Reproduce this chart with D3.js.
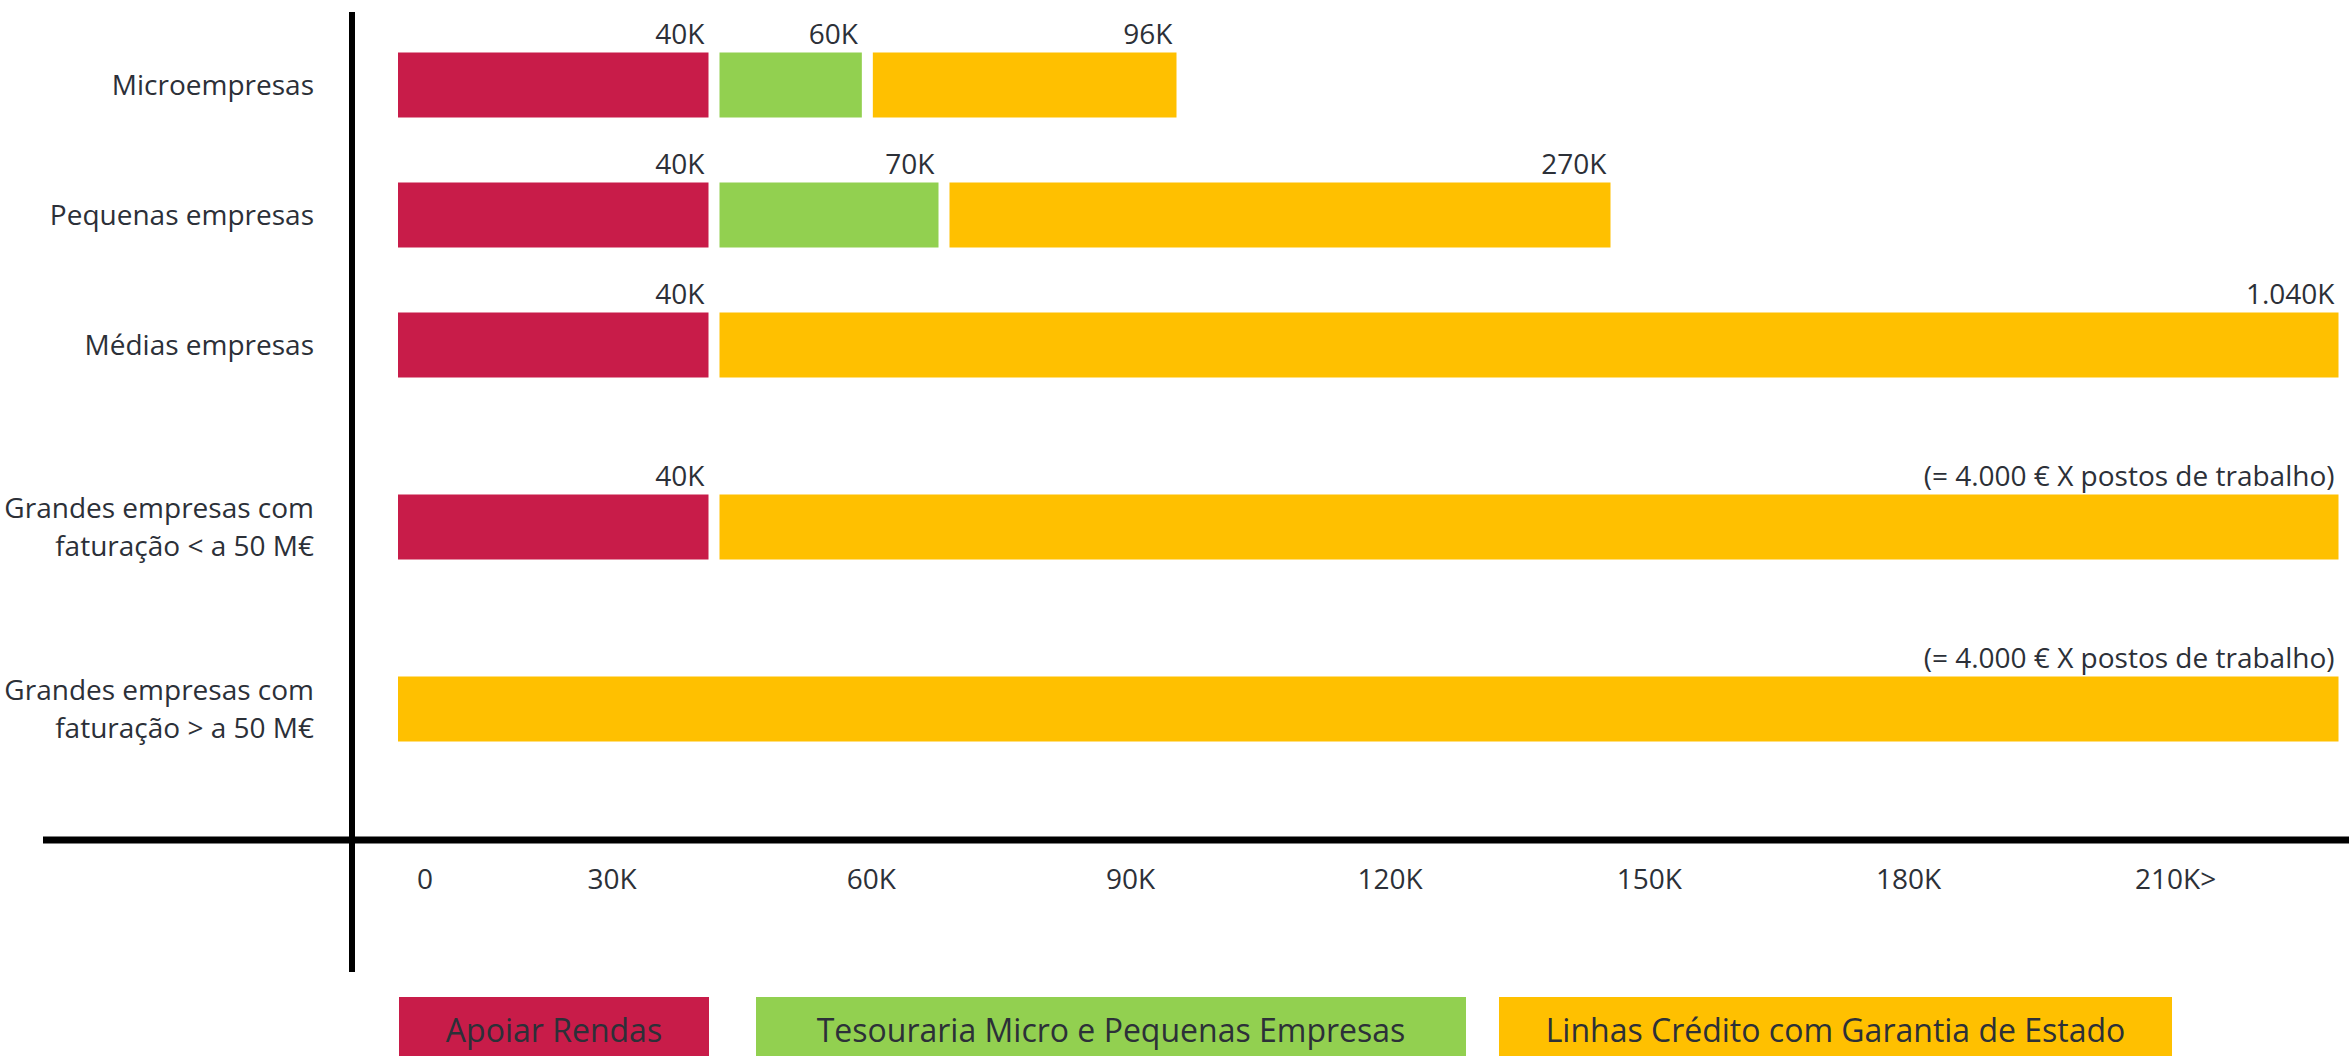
<!DOCTYPE html>
<html>
<head>
<meta charset="utf-8">
<script src="https://cdn.jsdelivr.net/npm/d3@7"></script>
<style>
  body { margin: 0; background: #fff; }
  svg { display: block; font-family: "Open Sans", sans-serif; }
</style>
</head>
<body>
<script>
// categories (top to bottom)
const categories = ["Microempresas", "Pequenas empresas", "Médias empresas",
  "Grandes empresas com\nfaturação < a 50 M€", "Grandes empresas com\nfaturação > a 50 M€"];

// cumulative upper limit (K€) of each measure per category, null = not available
const apoiarRendas = [40, 40, 40, 40, null];
const tesouraria   = [60, 70, null, null, null];
const linhasCredito = [96, 270, 1040, 1040, 1040];

// label shown above each segment
const rendasLabels = ["40K", "40K", "40K", "40K", null];
const tesourariaLabels = ["60K", "70K", null, null, null];
const creditoLabels = ["96K", "270K", "1.040K", "(= 4.000 € X postos de trabalho)", "(= 4.000 € X postos de trabalho)"];

const tickValues = [0, 30, 60, 90, 120, 150, 180, 210];
const tickLabels = ["0", "30K", "60K", "90K", "120K", "150K", "180K", "210K>"];

const seriesNames = ["Apoiar Rendas", "Tesouraria Micro e Pequenas Empresas", "Linhas Crédito com Garantia de Estado"];
const seriesColors = ["#c81c49", "#92d050", "#ffc000"];

const W = 2349, H = 1056;
const textColor = "#2c3038";

const svg = d3.select("body").append("svg")
  .attr("width", W).attr("height", H);

// schematic (broken) value scale used for the bars
const x = d3.scaleLinear()
  .domain([0, 40, 70, 96, 270, 1040])
  .range([398, 714, 944, 1182, 1616, 2344]);

// scale for the tick labels under the axis
const xTick = d3.scaleLinear()
  .domain([0, 30, 210])
  .range([425, 612, 2168]);

// row centers: extra room for rows with a note above
const barH = 65, baseStep = 130, noteStep = 52;
const rowY = [];
categories.forEach((c, i) => {
  if (i == 0) rowY.push(85);
  else {
    let hasNote = creditoLabels[i] && creditoLabels[i].startsWith("(");
    rowY.push(rowY[i-1] + baseStep + (hasNote ? noteStep : 0));
  }
});

// build segments
const gap = 11;
const segments = [];
categories.forEach((c, i) => {
  let prev = 0;
  [[apoiarRendas, rendasLabels], [tesouraria, tesourariaLabels], [linhasCredito, creditoLabels]].forEach((s, k) => {
    let v = s[0][i];
    if (v == null) return;
    segments.push({row: i, series: k, start: prev, end: v, label: s[1][i]});
    prev = v;
  });
});

const gBars = svg.append("g");
gBars.selectAll("rect")
  .data(segments)
  .join("rect")
    .attr("x", d => d.start == 0 ? x(0) : x(d.start) + gap/2)
    .attr("y", d => rowY[d.row] - barH/2)
    .attr("width", d => x(d.end) - gap/2 - (d.start == 0 ? x(0) : x(d.start) + gap/2))
    .attr("height", barH)
    .attr("fill", d => seriesColors[d.series]);

gBars.selectAll("text")
  .data(segments.filter(d => d.label))
  .join("text")
    .attr("x", d => x(d.end) - gap/2 - 4)
    .attr("y", d => rowY[d.row] - barH/2 - 9)
    .attr("text-anchor", "end")
    .attr("fill", textColor)
    .style("font-size", "28px")
    .text(d => d.label);

// category labels
const gCat = svg.append("g");
gCat.selectAll("text")
  .data(categories)
  .join("text")
    .attr("text-anchor", "end")
    .attr("fill", textColor)
    .style("font-size", "28px")
    .each(function(d, i) {
      let lines = d.split("\n");
      let t = d3.select(this);
      lines.forEach((l, j) => {
        t.append("tspan")
          .attr("x", 314)
          .attr("y", rowY[i] + 10 + (j - (lines.length - 1)/2) * 38)
          .text(l);
      });
    });

// axes
svg.append("line")
  .attr("x1", 352).attr("x2", 352)
  .attr("y1", 12).attr("y2", 972)
  .attr("stroke", "#000").attr("stroke-width", 6);

svg.append("line")
  .attr("x1", 43).attr("x2", W)
  .attr("y1", 840).attr("y2", 840)
  .attr("stroke", "#000").attr("stroke-width", 7);

svg.append("g")
  .selectAll("text")
  .data(tickValues)
  .join("text")
    .attr("x", d => xTick(d))
    .attr("y", 889)
    .attr("text-anchor", (d, i) => tickLabels[i].endsWith(">") ? "start" : "middle")
    .attr("dx", (d, i) => tickLabels[i].endsWith(">") ? -33 : 0)
    .attr("fill", textColor)
    .style("font-size", "28px")
    .text((d, i) => tickLabels[i]);

// legend
const legendX = [[399, 709], [756, 1466], [1499, 2172]];
const gLeg = svg.append("g")
  .selectAll("g")
  .data(seriesNames)
  .join("g");

gLeg.append("rect")
  .attr("x", (d, i) => legendX[i][0])
  .attr("y", 997)
  .attr("width", (d, i) => legendX[i][1] - legendX[i][0])
  .attr("height", 62)
  .attr("fill", (d, i) => seriesColors[i]);

gLeg.append("text")
  .attr("x", (d, i) => (legendX[i][0] + legendX[i][1]) / 2)
  .attr("y", 1042)
  .attr("text-anchor", "middle")
  .attr("fill", textColor)
  .style("font-size", "32px")
  .text(d => d);
</script>
</body>
</html>
